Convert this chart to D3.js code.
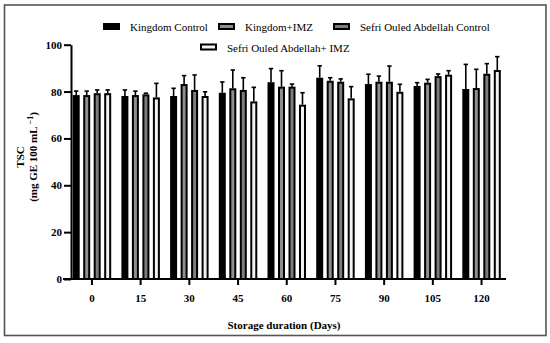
<!DOCTYPE html>
<html><head><meta charset="utf-8">
<script src="https://cdn.jsdelivr.net/npm/d3@7"></script>
<style>html,body{margin:0;padding:0;background:#fff;}</style>
</head><body><svg id="c" width="550" height="343"></svg>
<script>
const days = ["0","15","30","45","60","75","90","105","120"];
const seriesNames = ["Kingdom Control","Kingdom+IMZ","Sefri Ouled Abdellah Control","Sefri Ouled Abdellah+ IMZ"];
const kingdomControl = [78.5,78.1,78.1,79.5,84.0,85.9,83.2,82.4,81.1];
const kingdomIMZ     = [78.5,78.5,83.2,81.4,82.1,84.6,84.2,83.8,81.5];
const sefriControl   = [79.3,78.8,80.7,80.7,82.1,84.2,84.2,86.6,87.6];
const sefriIMZ       = [79.3,77.5,78.1,75.8,74.4,77.1,79.9,87.2,89.2];
const errKingdomControl = [1.7,2.6,3.3,4.6,5.8,5.1,4.2,1.4,10.5];
const errKingdomIMZ     = [1.7,1.7,3.6,7.8,6.8,1.3,2.4,1.4,8.0];
const errSefriControl   = [1.4,0.5,6.4,5.2,1.1,1.2,6.7,0.9,4.3];
const errSefriIMZ       = [1.4,6.0,1.8,6.0,5.1,5.0,3.2,1.7,5.7];
const yTicks = [0,20,40,60,80,100];

const values = [kingdomControl,kingdomIMZ,sefriControl,sefriIMZ];
const errors = [errKingdomControl,errKingdomIMZ,errSefriControl,errSefriIMZ];
const fills = ["#000000","#8f8f8f","#7d7d7d","#f2f2f2"];
const FONT = "'Times New Roman', Times, 'Liberation Serif', serif";

const svg = d3.select("#c");
svg.append("rect").attr("x",4.5).attr("y",5).attr("width",541.5).attr("height",330.5)
  .attr("fill","none").attr("stroke","#555").attr("stroke-width",1.6);

const y = d3.scaleLinear().domain([0,100]).range([279,44.7]);
const x0 = d3.scaleBand().domain(days).range([67.6,505.9]).paddingInner(0.138).paddingOuter(0.069);
const x1 = d3.scaleBand().domain(d3.range(4)).range([0,x0.bandwidth()]).paddingInner(0.333).paddingOuter(0.1665);

const g = svg.append("g");
days.forEach((d,i)=>{
  values.forEach((vals,s)=>{
    const bx = x0(d)+x1(s);
    const bw = x1.bandwidth();
    g.append("rect").attr("x",bx+1).attr("y",y(vals[i])+1)
      .attr("width",bw-2).attr("height",y(0)-y(vals[i])-1)
      .attr("fill",fills[s]).attr("stroke","#000").attr("stroke-width",2);
    const cx = bx+bw/2;
    const top = y(vals[i]+errors[s][i]);
    g.append("line").attr("x1",cx).attr("x2",cx).attr("y1",y(vals[i])).attr("y2",top)
      .attr("stroke","#000").attr("stroke-width",1.6);
    g.append("line").attr("x1",cx-2.2).attr("x2",cx+2.2).attr("y1",top).attr("y2",top)
      .attr("stroke","#000").attr("stroke-width",1.6);
  });
});

const yAxis = svg.append("g").attr("transform","translate(71,0)")
  .call(d3.axisLeft(y).tickValues(yTicks).tickSize(7).tickPadding(2).tickSizeOuter(0));
yAxis.attr("font-family",FONT);
yAxis.select(".domain").attr("stroke-width",2);
yAxis.selectAll(".tick line").attr("stroke-width",2);
yAxis.selectAll("text").attr("font-size",11).attr("font-weight","bold");

const xAxis = svg.append("g").attr("transform","translate(0,279)")
  .call(d3.axisBottom(x0).tickSize(6).tickPadding(9).tickSizeOuter(0));
xAxis.attr("font-family",FONT);
xAxis.select(".domain").remove();
xAxis.append("line").attr("x1",63).attr("x2",506).attr("stroke","#000").attr("stroke-width",2);
xAxis.selectAll(".tick line").attr("stroke-width",2);
xAxis.selectAll("text").attr("font-size",11).attr("font-weight","bold");

svg.append("text").attr("x",284).attr("y",329).attr("text-anchor","middle").attr("font-family",FONT)
  .attr("font-size",11).attr("font-weight","bold").text("Storage duration (Days)");
const yl = svg.append("text").attr("transform","rotate(-90)").attr("font-family",FONT)
  .attr("text-anchor","middle").attr("font-size",11).attr("font-weight","bold");
yl.append("tspan").attr("x",-157).attr("y",24).text("TSC");
const t2 = yl.append("tspan").attr("x",-157).attr("y",37);
t2.append("tspan").text("(mg GE 100 mL");
t2.append("tspan").attr("font-size",8).attr("dy",-4).text(" \u22121");
t2.append("tspan").attr("dy",4).text(")");

const legendPos = [[103,27],[218,27],[333,27],[200,47.5]];
seriesNames.forEach((n,s)=>{
  const [lx,ly] = legendPos[s];
  svg.append("rect").attr("x",lx+1).attr("y",ly-3).attr("width",15).attr("height",5)
    .attr("fill",fills[s]).attr("stroke","#000").attr("stroke-width",2);
  svg.append("text").attr("x",lx+27).attr("y",ly+4).attr("font-family",FONT).attr("font-size",11).text(n);
});
</script></body></html>
